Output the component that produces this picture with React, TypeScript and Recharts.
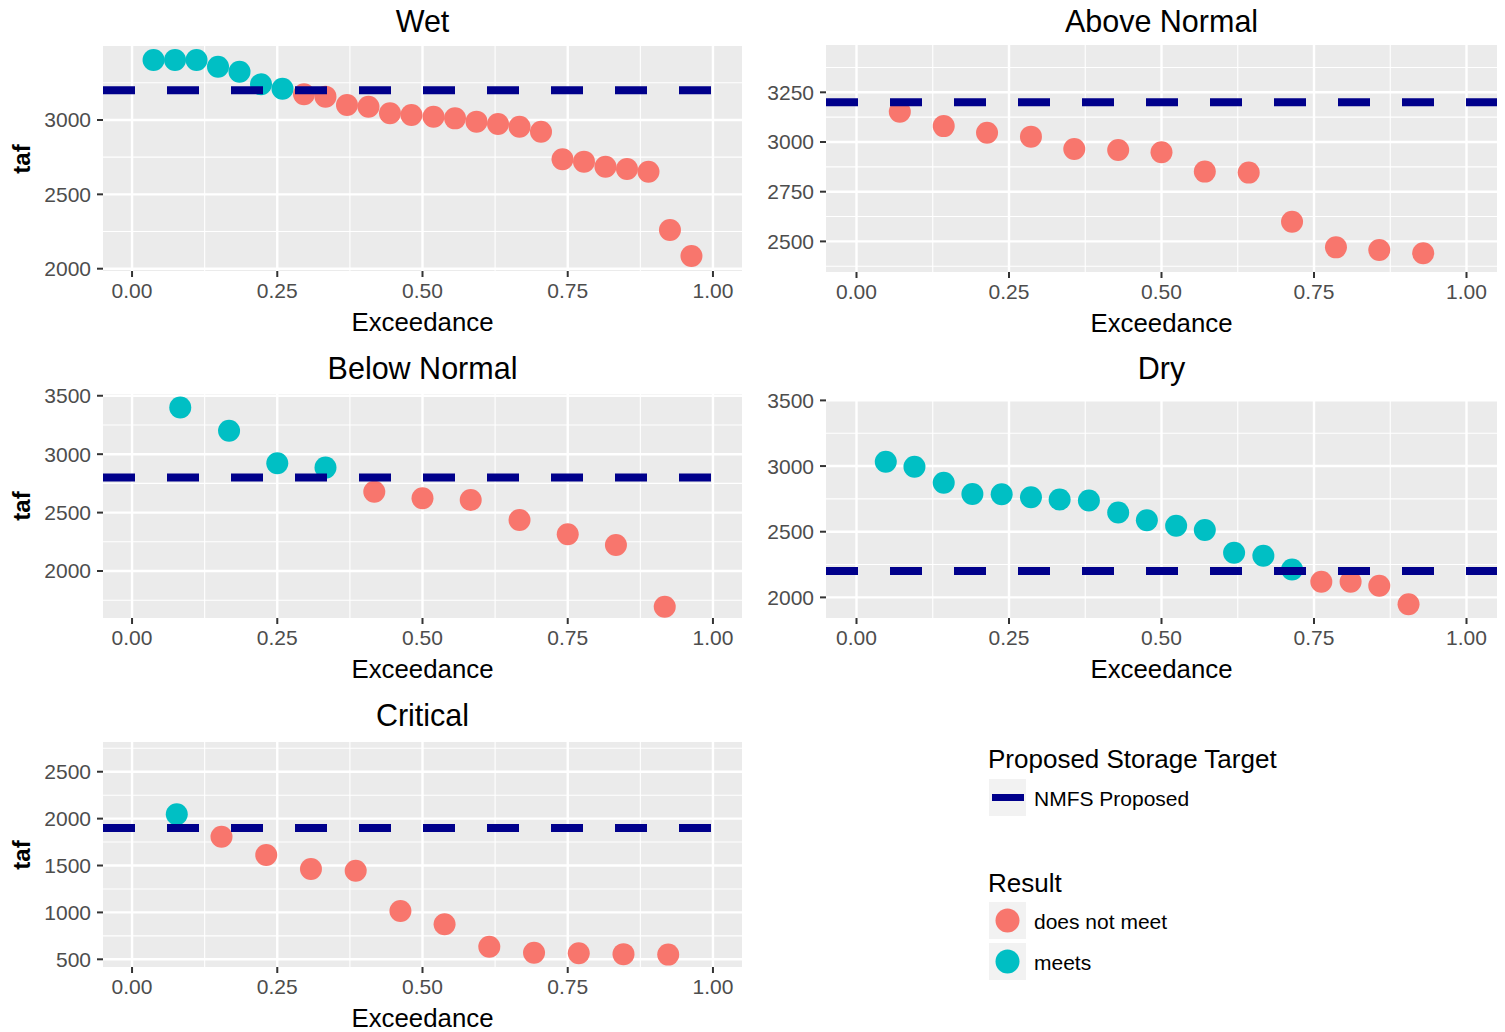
import React from 'react';
import { ScatterChart, Scatter, XAxis, YAxis, CartesianGrid } from 'recharts';

// Colours of the two result classes and the storage target line
const MEETS_COLOR = '#00BFC4';
const MISSES_COLOR = '#F8766D';
const TARGET_COLOR = '#00008B';
const FONT = '"Liberation Sans", Arial, Helvetica, sans-serif';

// Exceedance axis
const exceedanceTicks = [0, 0.25, 0.5, 0.75, 1];
const exceedanceMinor = [0.125, 0.375, 0.625, 0.875];
const exceedanceDomain: [number, number] = [-0.05, 1.05];

// Wet years
const wetExceedance = [0.037, 0.074, 0.111, 0.148, 0.185, 0.222, 0.259, 0.296, 0.333, 0.370, 0.407, 0.444, 0.481,
  0.519, 0.556, 0.593, 0.630, 0.667, 0.704, 0.741, 0.778, 0.815, 0.852, 0.889, 0.926, 0.963];
const wetStorage = [3403, 3403, 3403, 3358, 3325, 3240, 3210, 3173, 3157, 3101, 3089, 3045, 3034,
  3022, 3011, 2989, 2973, 2955, 2921, 2736, 2720, 2686, 2670, 2652, 2260, 2085];
const wetTarget = 3200;
const wetTicks = [2000, 2500, 3000];
const wetMinor = [2250, 2750, 3250];

// Above Normal years
const aboveNormalExceedance = [0.071, 0.143, 0.214, 0.286, 0.357, 0.429, 0.500, 0.571, 0.643, 0.714, 0.786, 0.857, 0.929];
const aboveNormalStorage = [3152, 3080, 3047, 3027, 2965, 2960, 2948, 2851, 2846, 2599, 2470, 2457, 2440];
const aboveNormalTarget = 3200;
const aboveNormalTicks = [2500, 2750, 3000, 3250];
const aboveNormalMinor = [2375, 2625, 2875, 3125, 3375];

// Below Normal years
const belowNormalExceedance = [0.083, 0.167, 0.250, 0.333, 0.417, 0.500, 0.583, 0.667, 0.750, 0.833, 0.917];
const belowNormalStorage = [3399, 3200, 2923, 2885, 2679, 2623, 2608, 2437, 2315, 2223, 1695];
const belowNormalTarget = 2800;
const belowNormalTicks = [2000, 2500, 3000, 3500];
const belowNormalMinor = [1750, 2250, 2750, 3250];

// Dry years
const dryExceedance = [0.048, 0.095, 0.143, 0.190, 0.238, 0.286, 0.333, 0.381, 0.429, 0.476, 0.524, 0.571, 0.619,
  0.667, 0.714, 0.762, 0.810, 0.857, 0.905];
const dryStorage = [3033, 2995, 2873, 2787, 2785, 2762, 2745, 2738, 2647, 2588, 2545, 2513, 2340,
  2317, 2213, 2119, 2119, 2088, 1947];
const dryTarget = 2200;
const dryTicks = [2000, 2500, 3000, 3500];
const dryMinor = [2250, 2750, 3250];

// Critical years
const criticalExceedance = [0.077, 0.154, 0.231, 0.308, 0.385, 0.462, 0.538, 0.615, 0.692, 0.769, 0.846, 0.923];
const criticalStorage = [2046, 1807, 1612, 1463, 1445, 1015, 873, 634, 570, 565, 555, 550];
const criticalTarget = 1900;
const criticalTicks = [500, 1000, 1500, 2000, 2500];
const criticalMinor = [750, 1250, 1750, 2250, 2750];

type PanelProps = {
  title: string;
  titleY: number;
  exceedance: number[];
  storage: number[];
  target: number;
  yTicks: number[];
  yMinor: number[];
  yDomain: [number, number];
  rect: [number, number, number, number];
  showYTitle: boolean;
};

const Y_AXIS_W = 100;
const TOP_PAD = 10;
const RIGHT_PAD = 10;
const X_AXIS_H = 40;

const noMarker = () => <g />;

function Panel({ title, titleY, exceedance, storage, target, yTicks, yMinor, yDomain, rect, showYTitle }: PanelProps) {
  const [px, py, pw, ph] = rect;
  const points = exceedance.map((x, i) => ({ x, y: storage[i], meets: storage[i] >= target }));
  const targetLine = exceedanceDomain.map((x) => ({ x, y: target }));
  const tickStyle = { fill: '#4D4D4D', fontSize: 21, fontFamily: FONT };
  const tickLine = { stroke: '#333333', strokeWidth: 2 };
  // points are drawn in exceedance order, coloured by whether they meet the target
  const dot = (p: any) => (
    <circle cx={p.cx} cy={p.cy} r={11} fill={p.payload && p.payload.meets ? MEETS_COLOR : MISSES_COLOR} />
  );
  return (
    <>
      <div style={{ position: 'absolute', left: px + pw / 2 - 250, width: 500, top: titleY - 17, textAlign: 'center', fontSize: 30.5, lineHeight: '34px', height: 34, color: '#000' }}>
        {title}
      </div>
      <div style={{ position: 'absolute', left: px - Y_AXIS_W, top: py - TOP_PAD }}>
        <ScatterChart
          width={Y_AXIS_W + pw + RIGHT_PAD}
          height={TOP_PAD + ph + X_AXIS_H}
          margin={{ top: TOP_PAD, right: RIGHT_PAD, bottom: 0, left: 0 }}
        >
          <CartesianGrid
            fill="#EBEBEB"
            stroke="#FFFFFF"
            strokeWidth={1.1}
            horizontalValues={yMinor}
            verticalValues={exceedanceMinor}
          />
          <CartesianGrid
            stroke="#FFFFFF"
            strokeWidth={2.4}
            horizontalValues={yTicks}
            verticalValues={exceedanceTicks}
          />
          <XAxis
            type="number"
            dataKey="x"
            domain={exceedanceDomain}
            ticks={exceedanceTicks}
            tickFormatter={(v: number) => v.toFixed(2)}
            allowDataOverflow
            axisLine={false}
            tickLine={tickLine}
            tickSize={6}
            tickMargin={6}
            tick={tickStyle}
            height={X_AXIS_H}
            interval={0}
          />
          <YAxis
            type="number"
            dataKey="y"
            domain={yDomain}
            ticks={yTicks}
            allowDataOverflow
            axisLine={false}
            tickLine={tickLine}
            tickSize={6}
            tickMargin={6}
            tick={tickStyle}
            width={Y_AXIS_W}
            interval={0}
          />
          <Scatter data={points} fill={MISSES_COLOR} shape={dot} isAnimationActive={false} />
          <Scatter
            data={targetLine}
            shape={noMarker}
            line={{ stroke: TARGET_COLOR, strokeWidth: 8, strokeDasharray: '32 32' }}
            lineType="joint"
            isAnimationActive={false}
          />
        </ScatterChart>
      </div>
      <div style={{ position: 'absolute', left: px + pw / 2 - 150, width: 300, top: py + ph + 37, textAlign: 'center', fontSize: 25.8, lineHeight: '28px', height: 28, color: '#000' }}>
        Exceedance
      </div>
      {showYTitle && (
        <div style={{ position: 'absolute', left: 22 - 40, width: 80, top: py + ph / 2 - 13, textAlign: 'center', fontSize: 24, lineHeight: '26px', height: 26, fontWeight: 'bold', color: '#000', transform: 'rotate(-90deg)' }}>
          taf
        </div>
      )}
    </>
  );
}

function ResultLegend() {
  return (
    <svg width={400} height={260} style={{ position: 'absolute', left: 960, top: 730, fontFamily: FONT }}>
      <text x={28} y={38} fontSize={26} fill="#000">Proposed Storage Target</text>
      <rect x={29} y={49} width={37} height={37} fill="#F2F2F2" />
      <line x1={32} x2={64} y1={67.5} y2={67.5} stroke={TARGET_COLOR} strokeWidth={7} />
      <text x={74} y={75.5} fontSize={21} fill="#000">NMFS Proposed</text>
      <text x={28} y={161.5} fontSize={26} fill="#000">Result</text>
      <rect x={29} y={172} width={37} height={37} fill="#F2F2F2" />
      <circle cx={47.5} cy={190.5} r={12} fill={MISSES_COLOR} />
      <text x={74} y={198.5} fontSize={21} fill="#000">does not meet</text>
      <rect x={29} y={213} width={37} height={37} fill="#F2F2F2" />
      <circle cx={47.5} cy={231.5} r={12} fill={MEETS_COLOR} />
      <text x={74} y={239.5} fontSize={21} fill="#000">meets</text>
    </svg>
  );
}

export default function App() {
  return (
    <div style={{ position: 'absolute', left: 0, top: 0, width: 1505, height: 1032, background: '#FFFFFF', fontFamily: FONT, overflow: 'hidden' }}>
      <Panel title="Wet" titleY={21} exceedance={wetExceedance} storage={wetStorage} target={wetTarget}
        yTicks={wetTicks} yMinor={wetMinor} yDomain={[1984.5, 3497.6]} rect={[103, 46, 639, 225]} showYTitle />
      <Panel title="Above Normal" titleY={21} exceedance={aboveNormalExceedance} storage={aboveNormalStorage} target={aboveNormalTarget}
        yTicks={aboveNormalTicks} yMinor={aboveNormalMinor} yDomain={[2346, 3488]} rect={[826, 45, 671, 227]} showYTitle={false} />
      <Panel title="Below Normal" titleY={368} exceedance={belowNormalExceedance} storage={belowNormalStorage} target={belowNormalTarget}
        yTicks={belowNormalTicks} yMinor={belowNormalMinor} yDomain={[1598, 3515]} rect={[103, 394, 639, 224]} showYTitle />
      <Panel title="Dry" titleY={368} exceedance={dryExceedance} storage={dryStorage} target={dryTarget}
        yTicks={dryTicks} yMinor={dryMinor} yDomain={[1843, 3503]} rect={[826, 400, 671, 218]} showYTitle={false} />
      <Panel title="Critical" titleY={715} exceedance={criticalExceedance} storage={criticalStorage} target={criticalTarget}
        yTicks={criticalTicks} yMinor={criticalMinor} yDomain={[418, 2817]} rect={[103, 742, 639, 225]} showYTitle />
      <ResultLegend />
    </div>
  );
}
